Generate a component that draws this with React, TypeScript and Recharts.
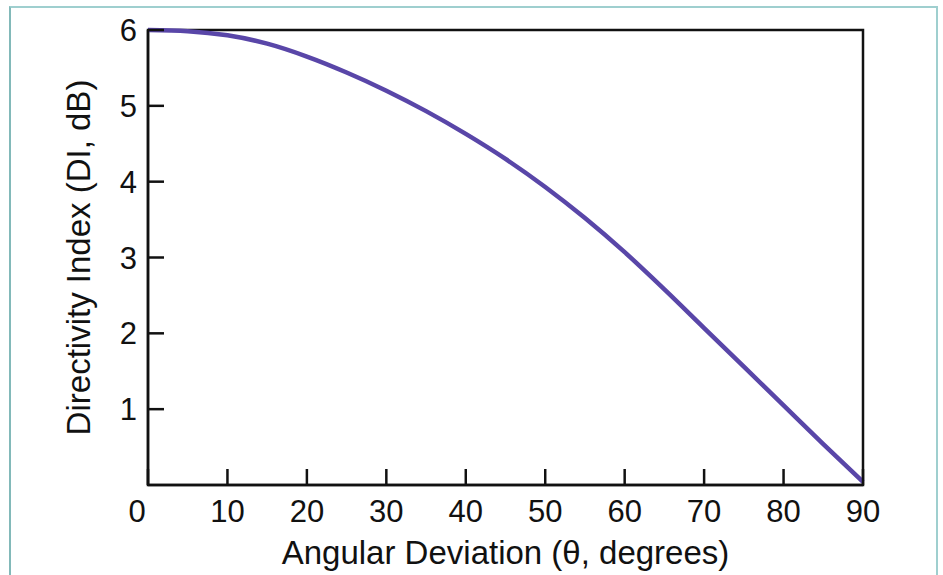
import React from 'react';
import { LineChart, Line, XAxis, YAxis, ReferenceArea } from 'recharts';

const angles = [0, 5, 10, 15, 20, 25, 30, 35, 40, 45, 50, 55, 60, 65, 70, 75, 80, 85, 90];
const diValues = [6.0, 5.985, 5.93, 5.82, 5.65, 5.44, 5.2, 4.93, 4.63, 4.3, 3.93, 3.52, 3.07, 2.58, 2.07, 1.56, 1.05, 0.54, 0.04];
const xTicks = [0, 10, 20, 30, 40, 50, 60, 70, 80, 90];
const yTicks = [1, 2, 3, 4, 5, 6];

const data = angles.map((a, i) => ({ angle: a, di: diValues[i] }));

const FONT = '"Liberation Sans", Arial, sans-serif';

const XTick = (props: any) => {
  const { x, y, payload } = props;
  const shift = payload.value === 0 ? -11 : 0;
  return (
    <text x={x + shift} y={y} dy="0.71em" textAnchor="middle" fill="#111" fontSize={31} fontFamily={FONT}>
      {payload.value}
    </text>
  );
};

export default function App() {
  return (
    <div style={{ position: 'absolute', left: 0, top: 0, width: 943, height: 575, background: '#fff' }}>
      <div
        style={{
          position: 'absolute',
          left: 9,
          top: 6,
          width: 929,
          height: 580,
          borderLeft: '2px solid #82b9b9',
          borderTop: '2px solid #9fcfcf',
          borderRight: '2px solid #9fcfcf',
          boxSizing: 'border-box',
        }}
      />
      <div style={{ position: 'absolute', left: 0, top: 0 }}>
        <LineChart width={943} height={575} data={data} margin={{ top: 30, right: 80, left: 0, bottom: 0 }}>
          <XAxis
            dataKey="angle"
            type="number"
            domain={[0, 90]}
            ticks={xTicks}
            tickSize={-16}
            tickMargin={31}
            height={90}
            axisLine={{ stroke: '#111', strokeWidth: 2.5 }}
            tickLine={{ stroke: '#111', strokeWidth: 2.5 }}
            tick={<XTick />}
            label={{
              value: 'Angular Deviation (θ, degrees)',
              position: 'insideBottom',
              offset: 11,
              style: { fontSize: 33, fill: '#111', fontFamily: FONT },
            }}
          />
          <YAxis
            type="number"
            domain={[0, 6]}
            ticks={yTicks}
            tickSize={-16}
            tickMargin={27}
            width={148}
            axisLine={{ stroke: '#111', strokeWidth: 2.5 }}
            tickLine={{ stroke: '#111', strokeWidth: 2.5 }}
            tick={{ fontSize: 31, fill: '#111', fontFamily: FONT }}
            label={{
              value: 'Directivity Index (DI, dB)',
              angle: -90,
              position: 'insideLeft',
              offset: 78,
              style: { fontSize: 33, fill: '#111', fontFamily: FONT, textAnchor: 'middle' },
            }}
          />
          <ReferenceArea x1={0} x2={90} y1={0} y2={6} fill="none" stroke="#111" strokeWidth={2.5} ifOverflow="visible" />
          <Line
            type="monotone"
            dataKey="di"
            stroke="#5946a8"
            strokeWidth={4.5}
            dot={false}
            isAnimationActive={false}
          />
        </LineChart>
      </div>
    </div>
  );
}
